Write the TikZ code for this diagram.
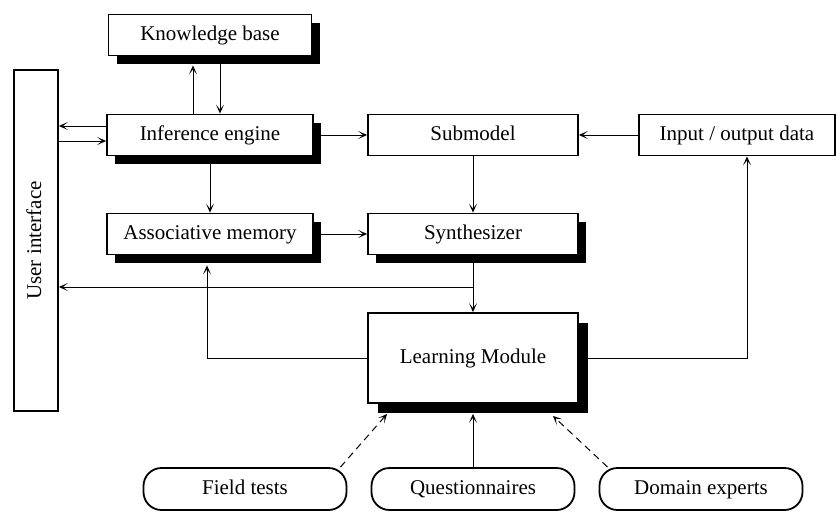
\documentclass[tikz,border=0pt]{standalone}
\usepackage{fontspec}
\setmainfont{Liberation Serif}
\usetikzlibrary{arrows.meta,shadows}

\begin{document}
\begin{tikzpicture}[x=1pt, y=1pt, node distance=100pt,
  main node/.style={draw, line width=1.8pt, fill=white, minimum width=206pt,
    minimum height=41pt, text height=14pt, text depth=4pt,
    font=\fontsize{21}{25}\selectfont},
  shade node/.style={main node, drop shadow={shadow xshift=#1, shadow yshift=-#1,
    fill=black, opacity=1}},
  shade node/.default=8pt,
  source node/.style={main node, rounded corners=18pt, minimum width=203pt, minimum height=42pt},
  arr/.style={-{Stealth[length=9pt,width=8pt,inset=5pt]}, line width=1pt},
  dash arr/.style={arr, dash pattern=on 7pt off 5pt}]
\useasboundingbox (0,0) rectangle (836,-512);

\node[shade node] (ie) at (210,-135) {Inference engine};
\node[shade node, above of=ie, minimum width=203pt] (kb) {Knowledge base};
\node[shade node, below of=ie, node distance=99pt] (am) {Associative memory};
\node[main node, right of=ie, node distance=263pt, minimum width=210pt] (sub) {Submodel};
\node[shade node, below of=sub, node distance=99pt, minimum width=210pt] (synth) {Synthesizer};
\node[main node, right of=sub, node distance=264pt, minimum width=196pt] (io) {Input / output data};
\node[shade node=10pt, below of=synth, node distance=124pt, minimum width=210pt,
  minimum height=90pt] (lm) {Learning Module};
\node[main node, minimum width=341pt, minimum height=44pt, rotate=90] (ui) at (36,-240.5) {User interface};

\node[source node, below of=lm, node distance=131pt] (quest) {Questionnaires};
\node[source node, left of=quest, node distance=228pt] (field) {Field tests};
\node[source node, right of=quest, node distance=228pt] (expert) {Domain experts};

\coordinate[below of=synth, node distance=53pt] (split);

% ui.south is the right side of the turned box
\draw[arr] ([yshift=9pt]ie.west) -- ([yshift=9pt]ie.west -| ui.south);
\draw[arr] ([yshift=-6pt]ie.west -| ui.south) -- ([yshift=-6pt]ie.west);
\draw[arr] ([xshift=-17pt]ie.north) -- ([xshift=-17pt,yshift=-9pt]ie.north |- kb.south);
\draw[arr] ([xshift=10pt,yshift=-8pt]ie.north |- kb.south) -- ([xshift=10pt]ie.north);
\draw[arr] (ie.east) -- (ie.east -| sub.west);
\draw[arr] (ie.south) -- (ie.south |- am.north);
\draw[arr] (io.west) -- (io.west -| sub.east);
\draw[arr] (sub.south) -- (synth.north);
\draw[arr] (am.east) -- (am.east -| synth.west);
\draw[arr] (synth.south) -- (lm.north);
\draw[arr] (split) -- (split -| ui.south);
\draw[arr] (lm.west) -| ([xshift=-3pt,yshift=-10pt]am.south);
\draw[arr] (lm.east) -| ([xshift=10pt]io.south);

\draw[dash arr] ([xshift=-7pt]field.north east) -- ([xshift=20pt,yshift=-10pt]lm.south west);
\draw[arr] (quest.north) -- ([yshift=-10pt]lm.south -| quest.north);
\draw[dash arr] ([xshift=9pt]expert.north west) -- ([xshift=-26pt,yshift=-12pt]lm.south east);
\end{tikzpicture}
\end{document}
